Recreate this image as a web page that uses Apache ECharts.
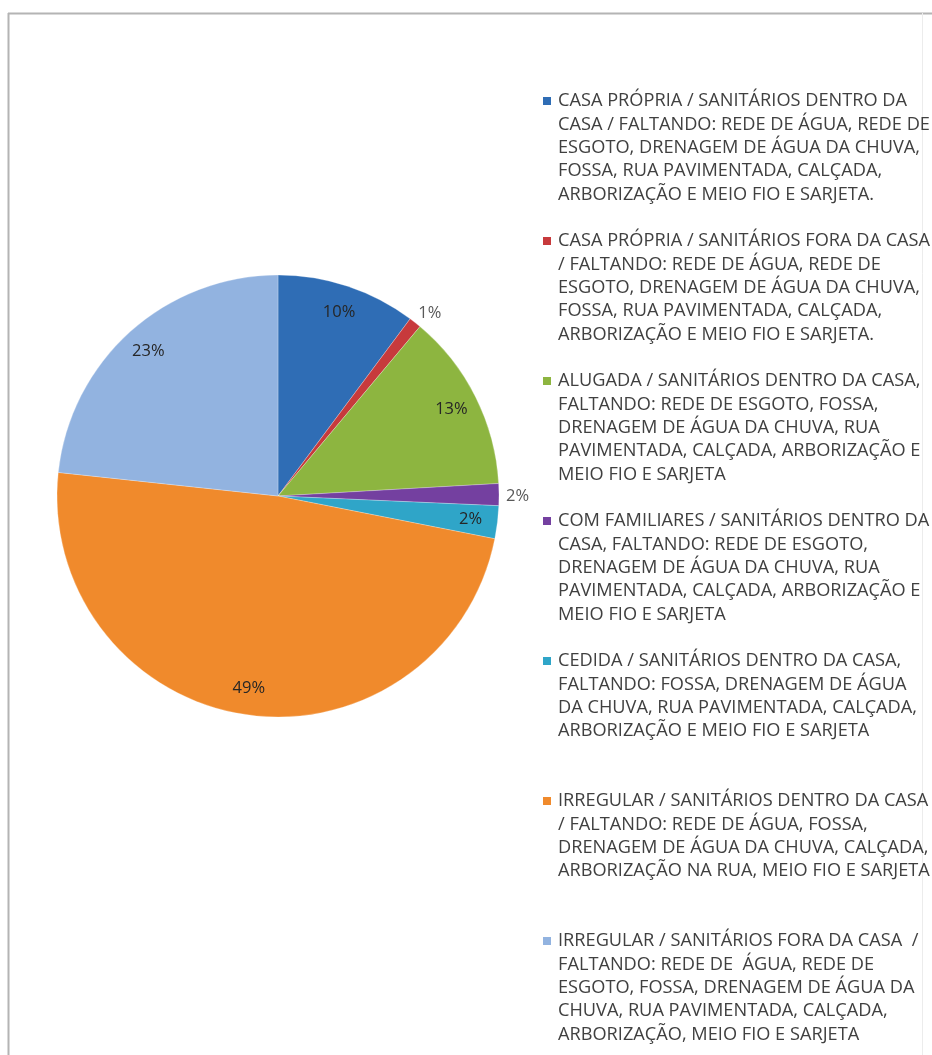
<!DOCTYPE html>
<html>
<head>
<meta charset="utf-8">
<script src="https://cdn.jsdelivr.net/npm/echarts@6/dist/echarts.min.js"></script>
<style>
  html, body { margin: 0; padding: 0; background: #ffffff; }
  #chart { width: 932px; height: 1055px; }
</style>
</head>
<body>
<div id="chart"></div>
<script>
// ---- data ----
const categories = [
  'CASA PRÓPRIA / SANITÁRIOS DENTRO DA\nCASA / FALTANDO: REDE DE ÁGUA, REDE DE\nESGOTO, DRENAGEM DE ÁGUA DA CHUVA,\nFOSSA, RUA PAVIMENTADA, CALÇADA,\nARBORIZAÇÃO E MEIO FIO E SARJETA.',
  'CASA PRÓPRIA / SANITÁRIOS FORA DA CASA\n/ FALTANDO: REDE DE ÁGUA, REDE DE\nESGOTO, DRENAGEM DE ÁGUA DA CHUVA,\nFOSSA, RUA PAVIMENTADA, CALÇADA,\nARBORIZAÇÃO E MEIO FIO E SARJETA.',
  'ALUGADA / SANITÁRIOS DENTRO DA CASA,\nFALTANDO: REDE DE ESGOTO, FOSSA,\nDRENAGEM DE ÁGUA DA CHUVA, RUA\nPAVIMENTADA, CALÇADA, ARBORIZAÇÃO E\nMEIO FIO E SARJETA',
  'COM FAMILIARES / SANITÁRIOS DENTRO DA\nCASA, FALTANDO: REDE DE ESGOTO,\nDRENAGEM DE ÁGUA DA CHUVA, RUA\nPAVIMENTADA, CALÇADA, ARBORIZAÇÃO E\nMEIO FIO E SARJETA',
  'CEDIDA / SANITÁRIOS DENTRO DA CASA,\nFALTANDO: FOSSA, DRENAGEM DE ÁGUA\nDA CHUVA, RUA PAVIMENTADA, CALÇADA,\nARBORIZAÇÃO E MEIO FIO E SARJETA',
  'IRREGULAR / SANITÁRIOS DENTRO DA CASA\n/ FALTANDO: REDE DE ÁGUA, FOSSA,\nDRENAGEM DE ÁGUA DA CHUVA, CALÇADA,\nARBORIZAÇÃO NA RUA, MEIO FIO E SARJETA',
  'IRREGULAR / SANITÁRIOS FORA DA CASA  /\nFALTANDO: REDE DE  ÁGUA, REDE DE\nESGOTO, FOSSA, DRENAGEM DE ÁGUA DA\nCHUVA, RUA PAVIMENTADA, CALÇADA,\nARBORIZAÇÃO, MEIO FIO E SARJETA'
];
const values = [10.2, 0.9, 13.0, 1.6, 2.4, 48.6, 23.3];
const outsideLabelIdx = [1, 3];

// ---- styles ----
const colors = ['#2F6DB5', '#C73A3C', '#8DB540', '#7440A0', '#2FA5C8', '#F08A2C', '#92B3E0'];
const CX = 278, CY = 496, R = 221;
const LH = 23.4;
const FONT = '"Open Sans", sans-serif';

const rich = {
  g: { width: 7, height: 8 },
  ind: { width: 15, height: 8 },
  t: { fontFamily: FONT, fontSize: 18.2, color: '#404040', lineHeight: LH }
};
colors.forEach((c, i) => {
  rich['s' + i] = { width: 8, height: 8, backgroundColor: c, lineHeight: LH };
});

const chart = echarts.init(document.getElementById('chart'), null, { renderer: 'canvas' });
chart.setOption({
  backgroundColor: '#ffffff',
  animation: false,
  graphic: [
    { type: 'line', shape: { x1: 8, y1: 13.5, x2: 932, y2: 13.5 }, style: { stroke: '#b4b4b4', lineWidth: 2 } },
    { type: 'line', shape: { x1: 8.5, y1: 13, x2: 8.5, y2: 1055 }, style: { stroke: '#b4b4b4', lineWidth: 2 } },
    { type: 'line', shape: { x1: 922.5, y1: 13, x2: 922.5, y2: 1055 }, style: { stroke: '#ececec', lineWidth: 1 } }
  ],
  legend: {
    orient: 'vertical',
    left: 532,
    top: 96 - LH / 2,
    itemGap: 140 - 5 * LH,
    itemWidth: 0,
    itemHeight: 10,
    icon: 'rect',
    itemStyle: { opacity: 0 },
    selectedMode: false,
    data: categories,
    formatter: function (name) {
      const i = categories.indexOf(name);
      const lines = name.split('\n');
      while (lines.length < 5) lines.push(' ');
      return lines.map((l, k) => k === 0 ? '{s' + i + '|}{g|}{t|' + l + '}' : '{ind|}{t|' + l + '}').join('\n');
    },
    textStyle: { rich: rich, lineHeight: LH }
  },
  series: [
    {
      type: 'pie',
      center: [CX, CY],
      radius: [0, R],
      startAngle: 90,
      clockwise: true,
      silent: true,
      label: { show: false },
      labelLine: { show: false },
      itemStyle: { borderColor: 'rgba(255,255,255,0.5)', borderWidth: 0.5 },
      data: categories.map((n, i) => ({ name: n, value: values[i], itemStyle: { color: colors[i] } }))
    },
    {
      type: 'pie',
      center: [CX, CY],
      radius: [R - 60, R],
      startAngle: 90,
      clockwise: true,
      silent: true,
      avoidLabelOverlap: false,
      percentPrecision: 0,
      itemStyle: { color: 'rgba(0,0,0,0)' },
      labelLine: { show: false, length: 2, length2: 0 },
      label: {
        show: true,
        position: 'inside',
        formatter: '{d}%',
        fontFamily: FONT,
        fontSize: 16.5,
        color: '#262626'
      },
      data: categories.map((n, i) => {
        const d = { name: n, value: values[i] };
        if (outsideLabelIdx.indexOf(i) >= 0) {
          d.label = { position: 'outside', color: '#595959', offset: i === 1 ? [-3, -8] : [0, 2] };
        }
        return d;
      })
    }
  ]
});
</script>
</body>
</html>
